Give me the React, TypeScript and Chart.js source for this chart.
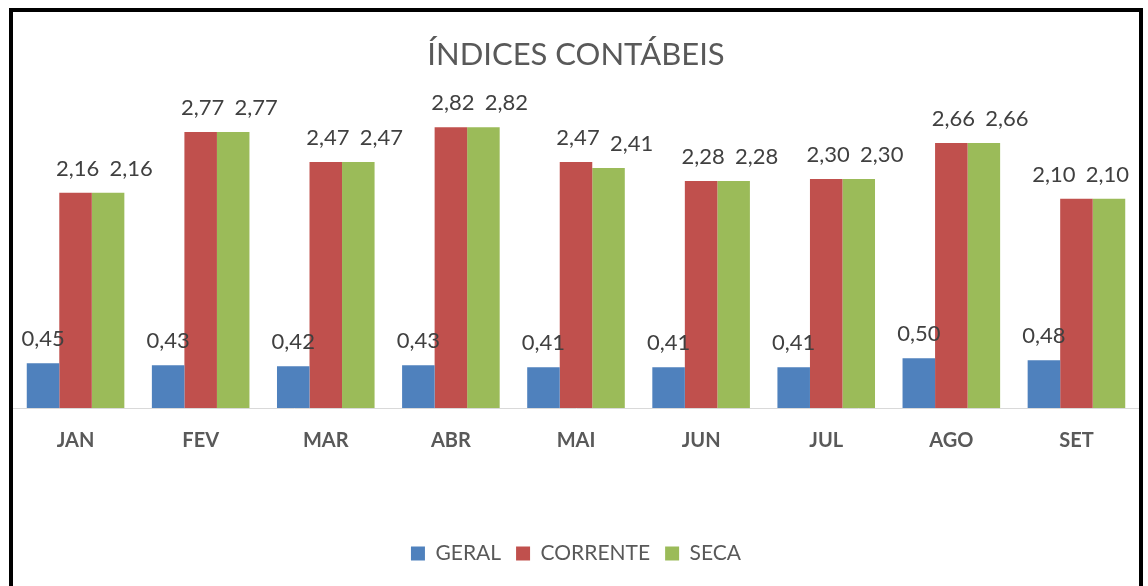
import React, { useEffect, useRef } from "react";
import { Chart, registerables } from "chart.js";

Chart.register(...registerables);

const categories = ["JAN", "FEV", "MAR", "ABR", "MAI", "JUN", "JUL", "AGO", "SET"];
const geral = [0.45, 0.43, 0.42, 0.43, 0.41, 0.41, 0.41, 0.5, 0.48];
const corrente = [2.16, 2.77, 2.47, 2.82, 2.47, 2.28, 2.3, 2.66, 2.1];
const seca = [2.16, 2.77, 2.47, 2.82, 2.41, 2.28, 2.3, 2.66, 2.1];
const seriesNames = ["GERAL", "CORRENTE", "SECA"];
const titleText = "ÍNDICES CONTÁBEIS";

const FONT = "Lato, 'Open Sans', sans-serif";
const labelShift = [0, 2, 23];

const fmt = (v: number) => v.toFixed(2).replace(".", ",");

const valueLabels = {
  id: "valueLabels",
  afterDatasetsDraw(chart: any) {
    const ctx = chart.ctx;
    ctx.save();
    ctx.font = `22px ${FONT}`;
    ctx.fillStyle = "#404040";
    ctx.textAlign = "center";
    ctx.textBaseline = "alphabetic";
    const n = chart.data.labels.length;
    const nd = chart.data.datasets.length;
    const lastMeta = chart.getDatasetMeta(nd - 1);
    for (let i = 0; i < n; i++) {
      // keep the label group inside the frame
      const lastEl = lastMeta.data[i];
      const lastText = fmt(chart.data.datasets[nd - 1].data[i]);
      const right = lastEl.x + labelShift[nd - 1] + ctx.measureText(lastText).width / 2;
      const groupShift = Math.min(0, chart.width - 10 - right);
      chart.data.datasets.forEach((ds: any, di: number) => {
        const el = chart.getDatasetMeta(di).data[i];
        const extra = di === 0 ? 0 : groupShift;
        ctx.fillText(fmt(ds.data[i]), el.x + labelShift[di] + extra, el.y - 17);
      });
    }
    ctx.restore();
  },
};

export default function App() {
  const ref = useRef<HTMLCanvasElement | null>(null);
  useEffect(() => {
    if (!ref.current) return;
    const chart = new Chart(ref.current, {
      type: "bar",
      data: {
        labels: categories,
        datasets: [
          { label: seriesNames[0], data: geral, backgroundColor: "#4F81BD" },
          { label: seriesNames[1], data: corrente, backgroundColor: "#C0504D" },
          { label: seriesNames[2], data: seca, backgroundColor: "#9BBB59" },
        ],
      },
      options: {
        animation: false,
        responsive: true,
        maintainAspectRatio: false,
        layout: { padding: { left: 0, right: 0, top: 0, bottom: 16 } },
        datasets: {
          bar: { categoryPercentage: 0.78, barPercentage: 1.0, borderWidth: 0 },
        },
        plugins: {
          title: {
            display: true,
            text: titleText,
            color: "#595959",
            font: { family: FONT, size: 31, weight: "normal" },
            padding: { top: 24, bottom: 36 },
          },
          legend: {
            display: true,
            position: "bottom",
            labels: {
              color: "#595959",
              font: { family: FONT, size: 21 },
              boxWidth: 14,
              boxHeight: 14,
              padding: 15,
            },
          },
          tooltip: { enabled: false },
        },
        scales: {
          x: {
            grid: { display: false, drawTicks: false },
            border: { display: true, color: "#D9D9D9", width: 1 },
            ticks: {
              color: "#595959",
              font: { family: FONT, size: 20, weight: "bold" },
              padding: 21,
            },
            afterFit(scale: any) {
              scale.height = 120;
            },
          },
          y: {
            display: false,
            min: 0,
            max: 3,
            grid: { display: false },
          },
        },
      },
      plugins: [valueLabels],
    });
    return () => chart.destroy();
  }, []);

  return (
    <div
      style={{
        position: "absolute",
        left: 9,
        top: 8,
        width: 1126,
        height: 600,
        border: "4px solid #000",
        background: "#fff",
      }}
    >
      <div style={{ position: "relative", width: 1126, height: 578 }}>
        <canvas ref={ref} />
      </div>
    </div>
  );
}
